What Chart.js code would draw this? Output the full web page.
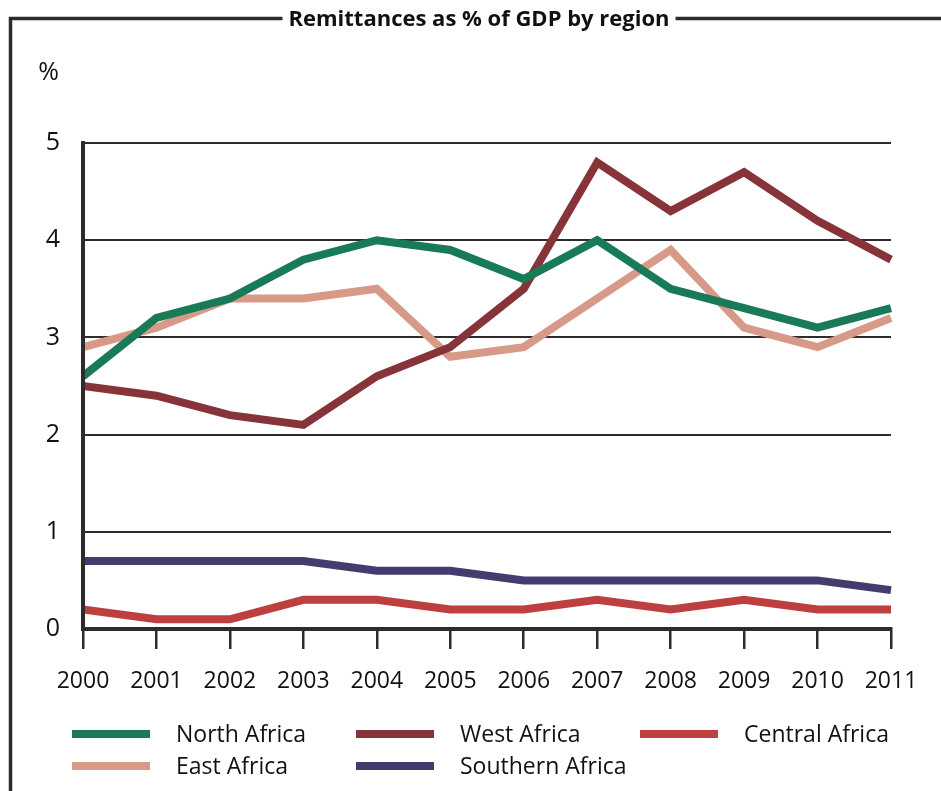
<!DOCTYPE html>
<html>

<head>
  <title>Remittances as % of GDP by region</title>
  <script src="https://cdn.jsdelivr.net/npm/chart.js"></script>
  <style>
    body {
      margin: 0;
      background: #fff;
    }

    .wrap {
      position: relative;
      width: 941px;
      height: 791px;
    }

    .legend-item {
      position: absolute;
      font-family: 'Open Sans', sans-serif;
      font-size: 23px;
      color: #111;
      line-height: 30px;
      white-space: nowrap;
    }

    .legend-item span.swatch {
      position: absolute;
      top: 12px;
      height: 8px;
      width: 78px;
    }
  </style>
</head>

<body>
  <div class="wrap">
    <canvas id="chart" width="941" height="791"></canvas>
    <div id="legend"></div>
  </div>
  <script>
    const years = ['2000', '2001', '2002', '2003', '2004', '2005', '2006', '2007', '2008', '2009', '2010', '2011'];
    const yTicks = [0, 1, 2, 3, 4, 5];

    const northAfrica = [2.6, 3.2, 3.4, 3.8, 4.0, 3.9, 3.6, 4.0, 3.5, 3.3, 3.1, 3.3];
    const westAfrica = [2.5, 2.4, 2.2, 2.1, 2.6, 2.9, 3.5, 4.8, 4.3, 4.7, 4.2, 3.8];
    const centralAfrica = [0.2, 0.1, 0.1, 0.3, 0.3, 0.2, 0.2, 0.3, 0.2, 0.3, 0.2, 0.2];
    const eastAfrica = [2.9, 3.1, 3.4, 3.4, 3.5, 2.8, 2.9, 3.4, 3.9, 3.1, 2.9, 3.2];
    const southernAfrica = [0.7, 0.7, 0.7, 0.7, 0.6, 0.6, 0.5, 0.5, 0.5, 0.5, 0.5, 0.4];

    const titleText = 'Remittances as % of GDP by region';
    const ink = '#2f2b2c';

    // legend reads row by row: North / West / Central, then East / Southern
    const series = [
      { label: 'North Africa', data: northAfrica, color: '#187a57' },
      { label: 'West Africa', data: westAfrica, color: '#86343a' },
      { label: 'Central Africa', data: centralAfrica, color: '#bd3f3f' },
      { label: 'East Africa', data: eastAfrica, color: '#d89a88' },
      { label: 'Southern Africa', data: southernAfrica, color: '#473a6e' }
    ];

    // frame round the chart with the title set into the top edge
    const framePlugin = {
      id: 'frame',
      afterDraw(chart) {
        const ctx = chart.ctx;
        ctx.save();
        ctx.font = 'bold 22px "Open Sans", sans-serif';
        const w = ctx.measureText(titleText).width;
        const cx = 479;
        const ty = 18.5;
        ctx.fillStyle = '#111';
        ctx.textAlign = 'center';
        ctx.textBaseline = 'middle';
        ctx.fillText(titleText, cx, ty + 1);

        ctx.strokeStyle = ink;
        ctx.lineWidth = 3.5;
        ctx.beginPath();
        ctx.moveTo(10.5, 800);
        ctx.lineTo(10.5, ty);
        ctx.lineTo(cx - w / 2 - 6, ty);
        ctx.moveTo(cx + w / 2 + 6, ty);
        ctx.lineTo(945, ty);
        ctx.stroke();

        ctx.font = '25px "Open Sans", sans-serif';
        ctx.fillText('%', 48.5, 73);
        ctx.restore();
      }
    };

    const ctx = document.getElementById('chart').getContext('2d');
    new Chart(ctx, {
      type: 'line',
      data: {
        labels: years,
        datasets: series.map(s => ({
          label: s.label,
          data: s.data,
          borderColor: s.color,
          backgroundColor: s.color,
          borderWidth: 8,
          pointRadius: 0,
          tension: 0,
          borderJoinStyle: 'miter',
          borderCapStyle: 'butt',
          // keep the lines off the left and bottom axis strokes
          clip: { left: -2, right: 6, top: 6, bottom: -2 }
        }))
      },
      options: {
        responsive: false,
        animation: false,
        layout: {
          padding: { left: 0, right: 50, top: 143, bottom: 102 }
        },
        plugins: {
          legend: { display: false },
          tooltip: { enabled: false },
          title: { display: false }
        },
        scales: {
          x: {
            offset: false,
            afterFit(scale) { scale.height = 60; },
            grid: {
              drawOnChartArea: false,
              drawTicks: true,
              tickLength: 20,
              lineWidth: 2.5,
              color: ink
            },
            border: { display: true, width: 4, color: ink },
            ticks: {
              color: '#111',
              padding: 19,
              maxRotation: 0,
              autoSkip: false,
              font: { family: 'Open Sans', size: 23 }
            }
          },
          y: {
            min: 0,
            max: 5,
            afterFit(scale) { scale.width = 83; },
            afterBuildTicks(scale) {
              scale.ticks = yTicks.map(v => ({ value: v }));
            },
            grid: {
              drawTicks: false,
              lineWidth: 2,
              color: ink
            },
            border: { display: true, width: 4, color: ink },
            ticks: {
              color: '#111',
              padding: 23,
              font: { family: 'Open Sans', size: 25 }
            }
          }
        }
      },
      plugins: [framePlugin]
    });

    // legend laid out in three fixed columns
    const legendCols = [72, 356, 640];
    const legendRows = [718, 750];
    const legendBox = document.getElementById('legend');
    series.forEach((s, i) => {
      const item = document.createElement('div');
      item.className = 'legend-item';
      item.style.left = legendCols[i % 3] + 'px';
      item.style.top = legendRows[Math.floor(i / 3)] + 'px';
      item.innerHTML = '<span class="swatch" style="left:0;background:' + s.color + '"></span>' +
        '<span style="margin-left:104px">' + s.label + '</span>';
      legendBox.appendChild(item);
    });
  </script>
</body>

</html>
